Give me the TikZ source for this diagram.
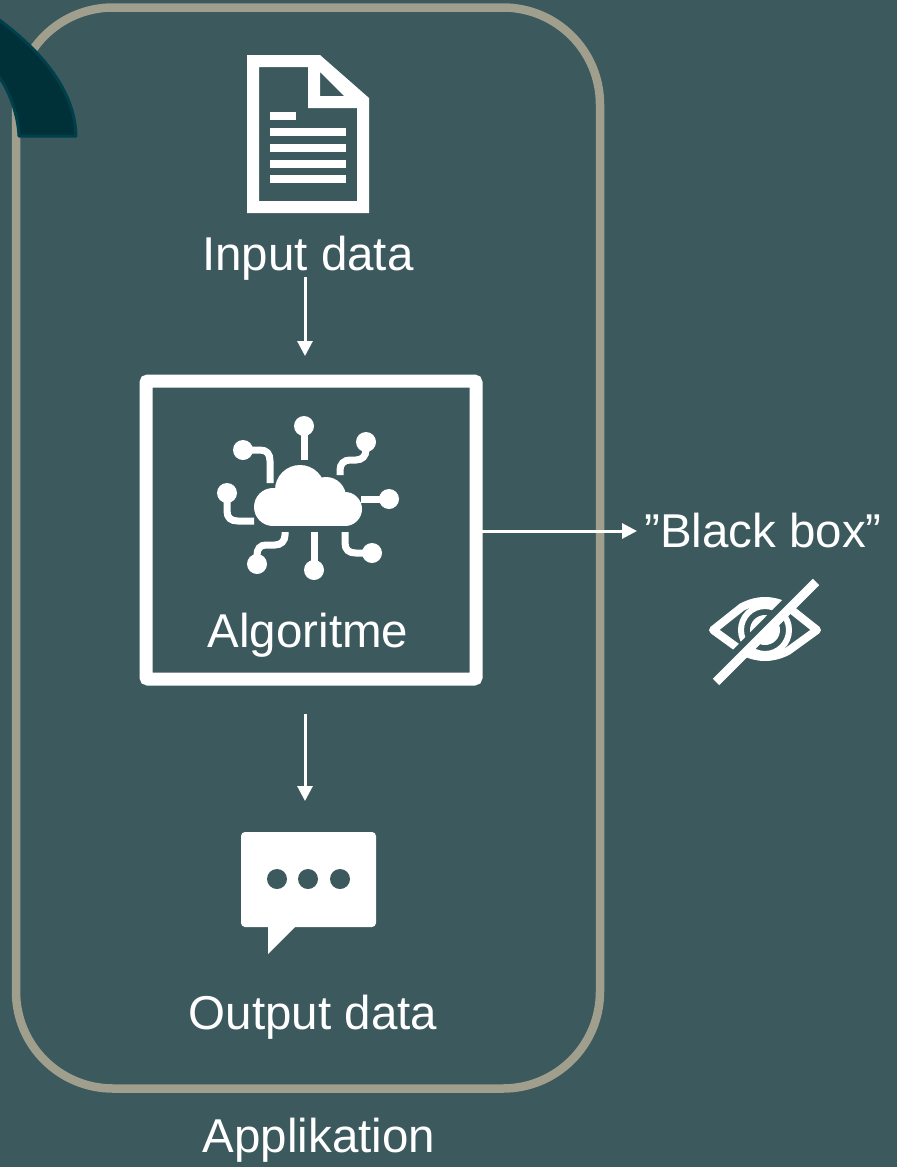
\documentclass[tikz,border=0pt]{standalone}
\usepackage{fontspec}
\setmainfont{Liberation Sans}
\usetikzlibrary{arrows.meta}
\definecolor{bgc}{HTML}{3C595D}
\definecolor{framec}{HTML}{A09E8C}
\definecolor{darkc}{HTML}{003038}
\definecolor{darke}{HTML}{00404A}
\tikzset{
  lbl/.style={text=white,font=\fontsize{47.5}{50}\selectfont,inner sep=0pt,anchor=base},
  flow/.style={draw=white,line width=3pt,-{Triangle[length=15pt,width=15pt]}},
  wire/.style={draw=white,line width=7pt},
  dot/.style={fill=white,draw=none}
}
\begin{document}
\begin{tikzpicture}[x=1pt,y=-1pt]
\fill[bgc] (0,0) rectangle (897,1167);
\useasboundingbox (0,0) rectangle (897,1167);
% application frame
\node[draw=framec,line width=8.5pt,rounded corners=97pt,minimum width=584pt,minimum height=1081pt,inner sep=0pt,outer sep=0pt,anchor=north west] (frame) at (16,7.5) {};
% dark arc
\fill[darkc,draw=darke,line width=3pt,line join=round]
  (-2,19) .. controls (48,56) and (75,95) .. (76,136) -- (19,136)
  .. controls (18,115) and (10,92) .. (-2,75) -- cycle;
% document icon
\fill[white,even odd rule]
  (247,55) -- (320,55) -- (369,98) -- (369,213) -- (247,213) -- cycle
  (259,67) -- (308,67) -- (308,108) -- (357,108) -- (357,201) -- (259,201) -- cycle
  (320,72) -- (344,96) -- (320,96) -- cycle;
\fill[white] (270,112) rectangle (296,120);
\fill[white] (270,128) rectangle (346,136);
\fill[white] (270,144) rectangle (346,152);
\fill[white] (270,160) rectangle (346,168);
\fill[white] (270,175) rectangle (346,183);
% labels
\node[lbl] (input) at (308,270) {Input data};
\node[lbl] (algo) at (308,647) {Algoritme};
\node[lbl] (output) at (313,1029) {Output data};
\node[lbl] (app) at (319,1152) {Applikation};
\node[lbl] (bb) at (763,547) {”Black box”};
% algorithm box
\node[draw=white,line width=13pt,rounded corners=2pt,minimum width=330pt,minimum height=298pt,inner sep=0pt,outer sep=0pt,anchor=north west] (box) at (146,381) {};
% connectors
\coordinate (a1) at (305,277);
\coordinate (a2) at (305,356);
\coordinate (b1) at (305,714);
\coordinate (b2) at (305,801);
\coordinate (c2) at (637,531);
\draw[flow] (a1) -- (a2);
\draw[flow] (b1) -- (b2);
\draw[flow] (box.east |- c2) -- (c2);
% cloud icon
\fill[dot] (273,507) circle (19);
\fill[dot] (300,490) circle (25);
\fill[dot] (326,497) circle (20);
\fill[dot] (345,509) circle (17);
\fill[dot] (272,500) rectangle (345,526);
\foreach \p in {(304,426),(366,442),(389,499),(372,553),(314,570),(257,564),(227,493),(243,450)} \fill[dot] \p circle (10);
\draw[wire] (304,428) -- (304,460);
\draw[wire] (366,445) -- (366,450) .. controls (366,456) and (362,460) .. (356,460) -- (350,460) .. controls (344,460) and (340,464) .. (340,470) -- (340,475);
\draw[wire] (361,499) -- (385,499);
\draw[wire] (345,532) -- (345,543) .. controls (345,550) and (349,553) .. (356,553) -- (372,553);
\draw[wire] (314,532) -- (314,570);
\draw[wire] (285,532) -- (285,535) .. controls (285,541) and (281,545) .. (275,545) -- (266,545) .. controls (260,545) and (257,549) .. (257,555) -- (257,564);
\draw[wire] (227,493) -- (227,511) .. controls (227,518) and (231,521) .. (238,521) -- (254,521);
\draw[wire] (243,450) -- (260,450) .. controls (267,450) and (270,454) .. (270,461) -- (270,483);
% bubble icon
\fill[white,rounded corners=4pt] (241,832) rectangle (376,927);
\fill[white] (268,920) -- (268,954) -- (296,926) -- (296,920) -- cycle;
\fill[bgc] (277,879) circle (10) (308,879) circle (10) (340,879) circle (10);
% eye icon
\draw[white,line width=8pt,line join=round] (713,630) -- (742,607) .. controls (750,603) and (757,601) .. (765,601) .. controls (773,601) and (780,603) .. (788,607) -- (817,630) -- (788,651) .. controls (780,655) and (773,657) .. (765,657) .. controls (757,657) and (750,655) .. (742,651) -- cycle;
\draw[white,line width=6pt] (765,630) circle (24);
\fill[white] (765,630) circle (15);
\draw[bgc,line width=7pt] (711,677) -- (811,576);
\draw[white,line width=9pt] (716,682) -- (816,582);
\end{tikzpicture}
\end{document}
